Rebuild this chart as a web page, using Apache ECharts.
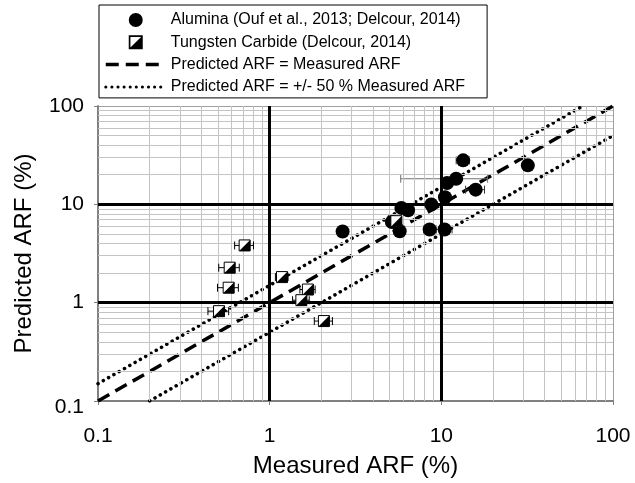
<!DOCTYPE html>
<html>
<head>
<meta charset="utf-8">
<script src="https://cdn.jsdelivr.net/npm/echarts@6/dist/echarts.min.js"></script>
<style>
  html, body { margin: 0; padding: 0; background: #fff; }
  #chart { width: 635px; height: 483px; }
</style>
</head>
<body>
<div id="chart"></div>
<script>
// Alumina: measured vs predicted ARF (%), with horizontal uncertainty (0 = none drawn)
const aluminaMeasured  = [2.66, 5.15, 5.85, 6.4, 5.72, 8.55, 8.74, 10.45, 10.5, 10.8, 12.2, 13.4, 15.85, 31.9];
const aluminaPredicted = [5.3,  6.6,  9.2,  8.7, 5.33, 5.55, 9.96, 5.55,  11.8, 16.5, 18.2, 28.0, 14.1,  24.9];
const aluminaError     = [0,    0,    0,    0,   0,    0.67, 0,    1.1,   0,    0,    6.4,  1.2,  2.0,   0];

// Tungsten carbide: measured vs predicted ARF (%), with horizontal uncertainty
const carbideMeasured  = [0.715, 0.585, 0.577, 0.507, 1.18, 1.67, 1.53, 2.07, 5.47];
const carbidePredicted = [3.82,  2.27,  1.42,  0.82,  1.82, 1.36, 1.06, 0.65, 6.74];
const carbideError     = [0.09,  0.08,  0.08,  0.07,  0.10, 0.17, 0.17, 0.25, 0];

// Reference lines: parity and +/- 50 % band (end points inside the axis range)
const parityLine = [[0.1, 0.1], [100, 100]];
const upperLine  = [[0.1, 0.15], [66.7, 100]];
const lowerLine  = [[0.2, 0.1], [100, 50]];

const axisTicks = [0.1, 1, 10, 100];

const NAME_AL = 'Alumina (Ouf et al., 2013; Delcour, 2014)';
const NAME_WC = 'Tungsten Carbide (Delcour, 2014)';
const NAME_EQ = 'Predicted ARF = Measured ARF';
const NAME_BAND = 'Predicted ARF = +/- 50 % Measured ARF';

const FONT = '"Liberation Sans", Arial, sans-serif';

// minor grid positions (2..9 within each decade)
const minorValues = [];
for (let d = 0; d < axisTicks.length - 1; d++) {
  for (let k = 2; k <= 9; k++) minorValues.push(+(axisTicks[d] * k).toPrecision(3));
}

const aluminaData = aluminaMeasured.map((x, i) => [x, aluminaPredicted[i], aluminaError[i]]);
const carbideData = carbideMeasured.map((x, i) => [x, carbidePredicted[i], carbideError[i]]);

// half-filled square: outlined box with filled lower-right triangle
const halfSquareIcon = 'path://M0,0H10V10H0Z M1.2,1.2V8.8H8.8V1.2Z M8.8,1.2L8.8,8.8L1.2,8.8Z';

const DOT = [0.1, 6];
const DASH = [13, 7];

const fmtTick = v => String(+v.toPrecision(3));

function errorBarItem(api, x, y, e, color) {
  const l = api.coord([x - e, y]);
  const r = api.coord([x + e, y]);
  const cap = 4;
  const st = { stroke: color, lineWidth: 1 };
  return [
    { type: 'line', shape: { x1: l[0], y1: l[1], x2: r[0], y2: r[1] }, style: st },
    { type: 'line', shape: { x1: l[0], y1: l[1] - cap, x2: l[0], y2: l[1] + cap }, style: st },
    { type: 'line', shape: { x1: r[0], y1: r[1] - cap, x2: r[0], y2: r[1] + cap }, style: st }
  ];
}

const chart = echarts.init(document.getElementById('chart'), null, { renderer: 'canvas' });

const lineLegendStyle = { itemStyle: { opacity: 0, borderWidth: 0 } };

const option = {
  backgroundColor: '#ffffff',
  animation: false,
  textStyle: { fontFamily: FONT },
  legend: {
    orient: 'vertical',
    left: 99,
    top: 5,
    padding: [7, 22, 3, 5],
    itemWidth: 60,
    itemHeight: 14,
    itemGap: 6.3,
    borderColor: '#000',
    borderWidth: 1,
    selectedMode: false,
    textStyle: { fontFamily: FONT, fontSize: 16, color: '#000' },
    data: [
      { name: NAME_AL, icon: 'circle', itemStyle: { color: '#000', opacity: 1 } },
      { name: NAME_WC, icon: halfSquareIcon, itemStyle: { color: '#000' } },
      Object.assign({ name: NAME_EQ, lineStyle: { color: '#000', width: 3.5, type: DASH } }, lineLegendStyle),
      Object.assign({ name: NAME_BAND, lineStyle: { color: '#000', width: 3, type: DOT, cap: 'round' } }, lineLegendStyle)
    ]
  },
  grid: { left: 98, top: 106, width: 515, height: 297, containLabel: false },
  xAxis: {
    type: 'log', logBase: 10, min: 0.1, max: 100,
    name: 'Measured ARF (%)', nameLocation: 'middle', nameGap: 53,
    nameTextStyle: { fontFamily: FONT, fontSize: 24, color: '#000' },
    axisLine: { show: true, onZero: false, lineStyle: { color: '#808080', width: 2 } },
    axisTick: { show: true, length: 4, lineStyle: { color: '#808080' } },
    axisLabel: { fontFamily: FONT, fontSize: 21, color: '#000', margin: 25, formatter: fmtTick },
    splitLine: { show: true, lineStyle: { color: '#a0a0a0', width: 1 } }
  },
  yAxis: {
    type: 'log', logBase: 10, min: 0.1, max: 100,
    name: 'Predicted ARF (%)', nameLocation: 'middle', nameGap: 62, nameRotate: 90,
    nameTextStyle: { fontFamily: FONT, fontSize: 24, color: '#000' },
    axisLine: { show: true, onZero: false, lineStyle: { color: '#808080', width: 2 } },
    axisTick: { show: true, length: 4, lineStyle: { color: '#808080' } },
    axisLabel: {
      fontFamily: FONT, fontSize: 21, color: '#000', margin: 14,
      // the lowest label sits a little below the corner
      formatter: v => (v < 0.5 ? '{low|' + fmtTick(v) + '}' : fmtTick(v)),
      rich: { low: { fontFamily: FONT, fontSize: 21, color: '#000', padding: [12, 0, 0, 0] } }
    },
    splitLine: { show: true, lineStyle: { color: '#a0a0a0', width: 1 } }
  },
  series: [
    // grid: minor lines and heavy decade lines
    {
      type: 'line', data: [], silent: true, z: 1,
      markLine: {
        silent: true, symbol: 'none', animation: false, label: { show: false },
        lineStyle: { color: '#c4c4c4', width: 1, type: 'solid' },
        data: minorValues.map(v => ({ xAxis: v })).concat(minorValues.map(v => ({ yAxis: v })))
      }
    },
    {
      type: 'line', data: [], silent: true, z: 2,
      markLine: {
        silent: true, symbol: 'none', animation: false, label: { show: false },
        lineStyle: { color: '#000', width: 3, type: 'solid' },
        data: [{ xAxis: 1 }, { xAxis: 10 }, { yAxis: 1 }, { yAxis: 10 }]
      }
    },
    {
      name: NAME_EQ, type: 'line', data: parityLine, showSymbol: false, symbol: 'none', z: 3,
      lineStyle: { color: '#000', width: 3.5, type: DASH }, itemStyle: { color: '#000' }
    },
    {
      name: NAME_BAND, type: 'line', data: upperLine, showSymbol: false, symbol: 'none', z: 3,
      lineStyle: { color: '#000', width: 3.5, type: DOT, cap: 'round' }, itemStyle: { color: '#000' }
    },
    {
      name: NAME_BAND, type: 'line', data: lowerLine, showSymbol: false, symbol: 'none', z: 3,
      lineStyle: { color: '#000', width: 3.5, type: DOT, cap: 'round' }, itemStyle: { color: '#000' }
    },
    // alumina uncertainty bars
    {
      type: 'custom', data: aluminaData, z: 4, silent: true,
      encode: { x: 0, y: 1 },
      renderItem: (params, api) => {
        const e = api.value(2);
        if (!e) return { type: 'group', children: [] };
        const color = e > 3 ? '#707070' : '#333';
        return { type: 'group', children: errorBarItem(api, api.value(0), api.value(1), e, color) };
      }
    },
    {
      name: NAME_AL, type: 'scatter', data: aluminaData, z: 5,
      symbol: 'circle', symbolSize: 14, itemStyle: { color: '#000', opacity: 1 }
    },
    {
      name: NAME_WC, type: 'custom', data: carbideData, z: 6,
      encode: { x: 0, y: 1 }, itemStyle: { color: '#000' },
      renderItem: (params, api) => {
        const x = api.value(0), y = api.value(1), e = api.value(2);
        const c = api.coord([x, y]);
        const s = 11, h = s / 2;
        const children = e ? errorBarItem(api, x, y, e, '#000') : [];
        children.push({
          type: 'rect', shape: { x: c[0] - h, y: c[1] - h, width: s, height: s },
          style: { fill: '#fff', stroke: '#000', lineWidth: 1 }
        });
        children.push({
          type: 'polygon', shape: { points: [[c[0] + h, c[1] - h], [c[0] + h, c[1] + h], [c[0] - h, c[1] + h]] },
          style: { fill: '#000' }
        });
        return { type: 'group', children };
      }
    }
  ]
};

chart.setOption(option);
</script>
</body>
</html>
